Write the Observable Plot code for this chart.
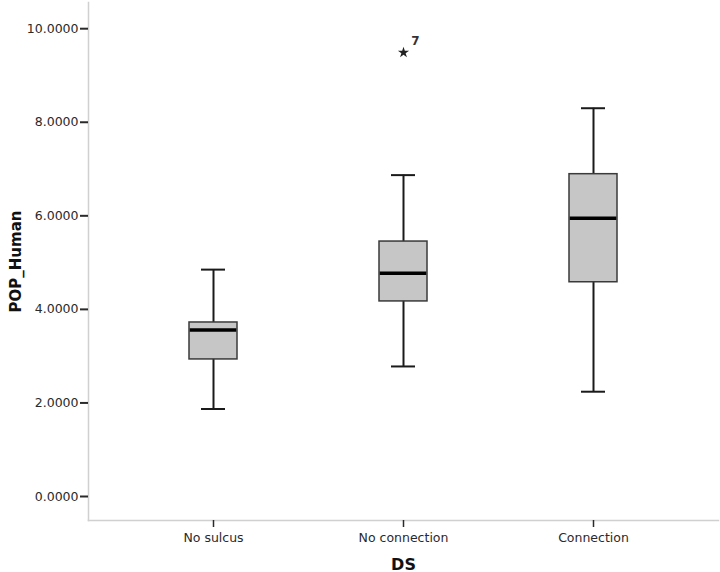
<!DOCTYPE html>
<html>
<head>
<meta charset="utf-8">
<script src="https://cdn.jsdelivr.net/npm/d3@7"></script>
<script src="https://cdn.jsdelivr.net/npm/@observablehq/plot@0.6"></script>
<style>
  html, body { margin: 0; padding: 0; background: #fff; }
  #chart { width: 720px; height: 572px; }
</style>
</head>
<body>
<div id="chart"></div>
<script>
// ---- Data ----
const categories   = ["No sulcus", "No connection", "Connection"];
const whiskerLow   = [1.87, 2.78, 2.24];
const quartile1    = [2.93, 4.17, 4.58];
const medians      = [3.56, 4.77, 5.95];
const quartile3    = [3.72, 5.45, 6.89];
const whiskerHigh  = [4.85, 6.87, 8.30];
const outlierCategory = ["No connection"];
const outlierValue    = [9.49];
const outlierLabel    = ["7"];
const yTicks = [0, 2, 4, 6, 8, 10];

const boxes = categories.map((c, i) => ({
  category: c, low: whiskerLow[i], q1: quartile1[i], med: medians[i], q3: quartile3[i], high: whiskerHigh[i]
}));
const outliers = outlierCategory.map((c, i) => ({category: c, value: outlierValue[i], label: outlierLabel[i]}));

const plot = Plot.plot({
  width: 720,
  height: 572,
  marginLeft: 88,
  marginRight: 2,
  marginTop: 2,
  marginBottom: 52,
  style: {fontFamily: "'DejaVu Sans', sans-serif", fontSize: "12.5px", color: "#2a2a2a", background: "#fff"},
  x: {domain: categories, paddingInner: 0.747, paddingOuter: 0.53},
  y: {domain: [-0.513, 10.56]},
  marks: [
    Plot.frame({anchor: "left", stroke: "#d0d0d0", strokeWidth: 1.5}),
    Plot.frame({anchor: "bottom", stroke: "#d0d0d0", strokeWidth: 1.5}),
    Plot.axisY({ticks: yTicks, tickFormat: d3.format(".4f"), tickSize: 8, tickPadding: 2, strokeWidth: 2,
      label: "POP_Human", labelArrow: "none", labelAnchor: "center", labelOffset: 78}),
    Plot.axisX({tickSize: 7, tickPadding: 6, strokeWidth: 1.5,
      label: "DS", labelArrow: "none", labelAnchor: "center", labelOffset: 49}),
    Plot.ruleX(boxes, {x: "category", y1: "low", y2: "high", stroke: "#1a1a1a", strokeWidth: 2}),
    Plot.barY(boxes, {x: "category", y1: "q1", y2: "q3", fill: "#c6c6c6", stroke: "#3a3a3a", strokeWidth: 1.5}),
    Plot.tickY(boxes, {x: "category", y: "med", stroke: "#000", strokeWidth: 3.5, insetLeft: 0.75, insetRight: 0.75}),
    Plot.tickY(boxes, {x: "category", y: "low", stroke: "#1a1a1a", strokeWidth: 2, insetLeft: 12, insetRight: 12}),
    Plot.tickY(boxes, {x: "category", y: "high", stroke: "#1a1a1a", strokeWidth: 2, insetLeft: 12, insetRight: 12}),
    Plot.dot(outliers, {x: "category", y: "value", symbol: "star", r: 3.5, fill: "#222", stroke: "none"}),
    Plot.text(outliers, {x: "category", y: "value", text: "label", dx: 12, dy: -11, fontSize: 12, fontWeight: "bold", fill: "#333"})
  ]
});

const svg = d3.select(plot);
svg.selectAll("[aria-label='y-axis label'] text")
  .text("POP_Human")
  .style("font-weight", "bold").style("font-size", "15px").attr("fill", "#111");
svg.selectAll("[aria-label='x-axis label'] text")
  .text("DS")
  .style("font-weight", "bold").style("font-size", "16px").attr("fill", "#111");
document.getElementById("chart").appendChild(plot);
</script>
</body>
</html>
